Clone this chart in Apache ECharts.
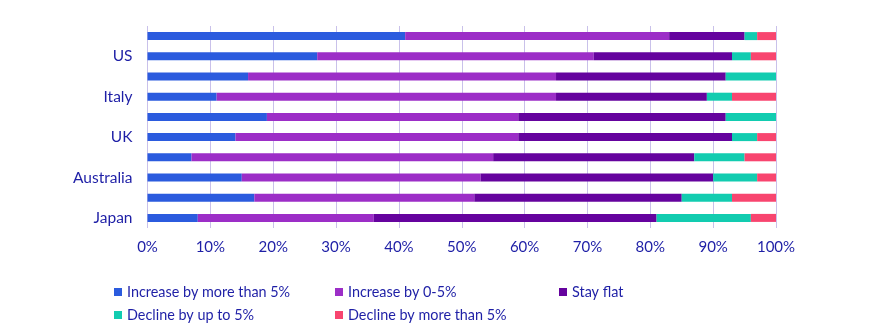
<!DOCTYPE html>
<html><head><meta charset="utf-8">
<script src="https://cdn.jsdelivr.net/npm/echarts@6/dist/echarts.min.js"></script>
<style>html,body{margin:0;padding:0;background:#fff}#c{width:875px;height:325px}</style>
</head><body><div id="c"></div>
<script>
// bottom to top
const categories = ['Japan','Canada','Australia','Spain','UK','Germany','Italy','France','US','China'];
const incMore5 = [8,17,15,7,14,19,11,16,27,41];
const inc0to5  = [28,35,38,48,45,40,54,49,44,42];
const stayFlat = [45,33,37,32,34,33,24,27,22,12];
const declUpTo5 = [15,8,7,8,4,8,4,8,3,2];
const declMore5 = [4,7,3,5,3,0,7,0,4,3];
const xTicks = [0,10,20,30,40,50,60,70,80,90,100];

const names = ['Increase by more than 5%','Increase by 0-5%','Stay flat','Decline by up to 5%','Decline by more than 5%'];
const colors = ['#2B5BDE','#9C2EC7','#65039E','#12CCB0','#F8456F'];
const vals = [incMore5, inc0to5, stayFlat, declUpTo5, declMore5];
const txt = '#1E1FA6';
const font = 'Lato';

const legendPos = [[109,280],[330,280],[554,280],[109,303],[330,303]];
const chart = echarts.init(document.getElementById('c'));
chart.setOption({
  animation:false,
  color: colors,
  grid:{left:147.5,right:99,top:26,height:202},
  legend: names.map((n,i)=>({data:[n],left:legendPos[i][0],top:legendPos[i][1],itemWidth:8,itemHeight:8,icon:'rect',
    textStyle:{color:txt,fontSize:14.4,fontFamily:font},itemGap:4})),
  xAxis:{type:'value',min:0,max:100,interval:10,
    axisLabel:{formatter:v=>xTicks.includes(v)?v+'%':'',color:txt,fontSize:15,fontFamily:font,margin:12},
    splitLine:{lineStyle:{color:'#C9C1EA'}},axisLine:{show:false},axisTick:{show:false}},
  yAxis:{type:'category',data:categories,
    axisLabel:{interval:1,color:txt,fontSize:15.5,fontFamily:font,margin:15},
    axisLine:{show:false},axisTick:{show:false}},
  series: names.map((n,i)=>({name:n,type:'bar',stack:'a',barWidth:8,data:vals[i],itemStyle:{color:colors[i]}}))
});
</script></body></html>
